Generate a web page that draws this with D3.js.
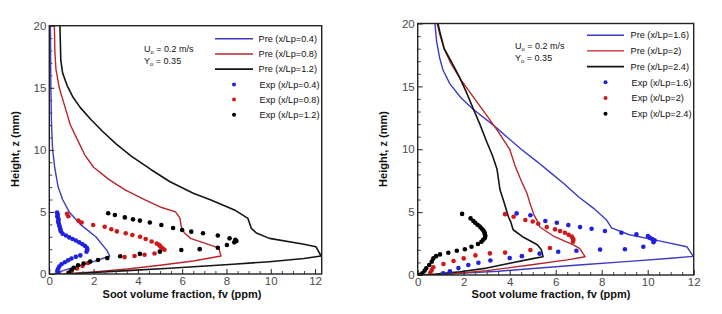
<!DOCTYPE html>
<html>
<head>
<meta charset="utf-8">
<script src="https://cdn.jsdelivr.net/npm/d3@7"></script>
<style>
  body { margin: 0; background: #fff; }
  svg { display: block; font-family: "Liberation Sans", Arial, sans-serif; }
</style>
</head>
<body>
<svg id="chart" width="722" height="314"></svg>
<script>
// ---- data: [fv (ppm), z (mm)] ----
const xTicks = [0, 2, 4, 6, 8, 10, 12];
const yTicks = [0, 5, 10, 15, 20];
const leftCases = ['0.4', '0.8', '1.2'];
const rightCases = ['1.6', '2', '2.4'];

// left panel, predictions
const preL1 = [[0.2,0],[0.48,0.19],[1.2,0.6],[2.0,1.0],[2.73,1.45],[2.6,1.9],[2.1,3.0],[1.4,4.0],[0.9,5.0],[0.6,6.0],[0.4,7.0],[0.25,8.5],[0.15,10],[0.1,12],[0.07,15],[0.05,20]];
const preL2 = [[0.6,0],[1.0,0.04],[2.0,0.17],[3.5,0.4],[5.0,0.7],[6.5,1.05],[7.75,1.45],[7.65,2.1],[6.4,2.85],[6.1,3.3],[5.96,3.8],[5.9,4.5],[5.7,5.0],[5.0,5.4],[4.3,6.0],[3.4,6.8],[2.7,7.6],[2.0,8.6],[1.6,9.6],[1.3,10.7],[0.95,12],[0.7,13.5],[0.45,15],[0.3,16.5],[0.25,18],[0.23,20]];
const preL3 = [[0.8,0],[2.0,0.12],[3.5,0.27],[5.44,0.46],[8.3,0.78],[9.94,0.99],[11.5,1.25],[12.27,1.45],[12.04,2.2],[11.5,2.4],[9.94,2.87],[9.35,3.3],[9.12,3.68],[8.97,4.48],[8.36,5.16],[7.3,5.96],[6.5,6.5],[5.45,7.43],[4.6,8.4],[3.7,9.5],[3.0,10.5],[2.4,11.5],[1.9,12.4],[1.4,13.4],[1.05,14.3],[0.8,15.2],[0.6,16.2],[0.52,17.2],[0.48,20]];

// left panel, measurements
const expL1 = [[0.35,4.95],[0.38,4.8],[0.36,4.65],[0.4,4.5],[0.42,4.35],[0.4,4.2],[0.43,4.05],[0.45,3.9],[0.48,3.75],[0.5,3.6],[0.52,3.45],[0.6,3.25],[0.75,3.1],[0.9,2.95],[1.05,2.82],[1.2,2.7],[1.35,2.55],[1.5,2.4],[1.62,2.25],[1.7,2.1],[1.72,1.95],[1.68,1.8],[1.4,1.5],[1.2,1.38],[1.0,1.25],[0.85,1.1],[0.7,0.95],[0.55,0.78],[0.45,0.6],[0.4,0.42],[0.36,0.25],[0.4,0.1]];
const expL2 = [[0.8,4.85],[0.86,4.65],[1.31,4.3],[1.46,4.15],[1.98,3.95],[2.5,3.8],[2.8,3.6],[3.05,3.43],[3.45,3.28],[3.75,3.14],[4.1,3.0],[4.35,2.82],[4.62,2.62],[4.85,2.45],[4.95,2.35],[5.0,2.25],[5.05,2.15],[5.12,2.05],[5.2,1.95],[4.75,1.65],[4.3,1.55],[3.85,1.45],[3.4,1.36],[1.75,0.88],[1.5,0.65],[1.25,0.45],[1.0,0.27],[0.85,0.08]];
const expL3 = [[2.66,4.89],[2.96,4.75],[3.41,4.56],[3.78,4.4],[4.09,4.3],[4.54,4.15],[5.06,3.95],[5.59,3.7],[6.0,3.55],[6.41,3.41],[6.94,3.28],[7.61,3.1],[8.14,2.87],[8.4,2.75],[8.45,2.65],[8.35,2.55],[8.02,2.34],[7.61,2.12],[6.79,2.0],[5.96,1.93],[4.99,1.8],[4.09,1.62],[3.2,1.43],[2.62,1.28],[2.2,1.13],[1.85,1.0],[1.55,0.85],[1.3,0.7],[1.1,0.5],[1.0,0.3],[0.9,0.12]];

// right panel, predictions
const preR1 = [[0.5,0],[2.0,0.15],[3.5,0.3],[4.88,0.5],[7.0,0.8],[9.2,1.08],[11.0,1.33],[11.98,1.48],[11.7,2.25],[10.4,2.75],[9.2,3.2],[8.43,3.75],[8.2,4.4],[7.65,5.3],[7.0,6.2],[6.4,7.2],[5.8,8.1],[5.2,9.0],[4.5,10.0],[3.3,11.9],[2.4,13.2],[1.88,14.1],[1.4,15.2],[1.1,16.3],[0.95,17.3],[0.82,18.6],[0.75,20]];
const preR2 = [[0.5,0],[1.5,0.1],[3.0,0.35],[4.88,0.79],[6.5,1.2],[7.28,1.45],[7.05,2.1],[6.77,2.4],[5.9,3.1],[5.32,3.8],[5.2,4.3],[5.05,4.8],[4.9,5.6],[4.75,6.5],[4.5,7.5],[4.25,8.6],[4.0,10.0],[3.5,11.4],[3.0,12.7],[2.4,14.2],[1.85,15.6],[1.45,16.8],[1.15,18.0],[0.95,19.2],[0.85,20]];
const preR3 = [[0.1,0],[0.8,0.08],[1.84,0.26],[3.0,0.55],[4.0,0.93],[5.0,1.3],[5.45,1.45],[5.38,2.0],[5.2,2.4],[4.6,3.0],[4.15,3.6],[4.05,4.2],[3.94,4.65],[3.75,5.8],[3.58,6.75],[3.45,8.4],[3.25,9.5],[3.0,10.6],[2.7,12.0],[2.42,13.2],[2.1,14.6],[1.8,15.8],[1.45,17.0],[1.15,18.0],[0.98,19.2],[0.88,20]];

// right panel, measurements
const expR1 = [[4.3,4.9],[4.9,4.75],[5.55,4.3],[6.05,4.15],[6.55,3.97],[7.06,3.81],[7.56,3.68],[8.14,3.5],[8.86,3.36],[9.51,3.23],[10.01,3.1],[10.1,2.95],[10.2,2.85],[10.3,2.75],[10.25,2.6],[9.81,2.25],[9.01,2.05],[7.93,2.02],[6.9,1.93],[6.11,1.85],[5.3,1.7],[4.53,1.5],[4.0,1.35],[3.16,1.15],[2.64,0.98],[2.2,0.8],[1.77,0.55],[1.4,0.3],[1.11,0.13]];
const expR2 = [[3.8,4.84],[4.17,4.63],[4.68,4.37],[5.0,4.25],[5.24,4.08],[5.61,3.81],[5.97,3.63],[6.19,3.49],[6.4,3.36],[6.56,3.2],[6.7,3.05],[6.75,2.9],[6.77,2.78],[6.75,2.65],[5.75,2.15],[4.9,1.98],[3.8,1.78],[3.14,1.72],[2.51,1.56],[2.0,1.32],[1.56,1.11],[1.12,0.87],[0.68,0.61],[0.61,0.4],[0.55,0.2]];
const expR3 = [[1.93,4.86],[2.3,4.5],[2.42,4.3],[2.5,4.15],[2.6,4.0],[2.7,3.85],[2.78,3.7],[2.85,3.55],[2.9,3.4],[2.92,3.25],[2.94,3.1],[2.92,2.95],[2.85,2.8],[2.77,2.65],[2.62,2.46],[2.34,2.25],[2.05,2.05],[1.7,1.93],[1.33,1.77],[0.97,1.64],[0.8,1.5],[0.68,1.32],[0.61,1.06],[0.5,0.8],[0.37,0.53],[0.3,0.34],[0.2,0.13],[0.1,0.02]];

const lineColors = ['#3b3bc4', '#b8262a', '#151515'];
const dotColors = ['#2020e0', '#d01818', '#000000'];

const svg = d3.select('#chart');

function drawPanel(p) {
  const x = d3.scaleLinear().domain([0, p.xMax]).range([p.left, p.right]);
  const y = d3.scaleLinear().domain([0, 20]).range([p.bottom, p.top]);
  const g = svg.append('g');

  const clipId = 'clip-' + p.id;
  g.append('clipPath').attr('id', clipId)
    .append('rect')
    .attr('x', p.left).attr('y', p.top)
    .attr('width', p.right - p.left).attr('height', p.bottom - p.top);

  const plot = g.append('g').attr('clip-path', `url(#${clipId})`);
  const line = d3.line().x(d => x(d[0])).y(d => y(d[1]));

  p.pre.forEach((s, i) => {
    plot.append('path')
      .datum(s)
      .attr('d', line)
      .attr('fill', 'none')
      .attr('stroke', lineColors[i])
      .attr('stroke-width', i === 2 ? 1.6 : 1.4)
      .attr('stroke-linejoin', 'round');
  });

  p.exp.forEach((s, i) => {
    plot.selectAll(null)
      .data(s)
      .enter().append('circle')
      .attr('cx', d => x(d[0]))
      .attr('cy', d => y(d[1]))
      .attr('r', 2.3)
      .attr('fill', dotColors[i]);
  });

  // axes: ticks point into the frame
  const xMinor = d3.range(0, p.xMax + 0.001, 0.5).filter(v => v % 2 !== 0);
  const yMinor = d3.range(0, 20.001, 1).filter(v => v % 5 !== 0);

  const xAxis = g.append('g').attr('transform', `translate(0,${p.bottom})`)
    .call(d3.axisBottom(x).tickValues(xTicks).tickSizeInner(-5).tickSizeOuter(0).tickPadding(4));
  xAxis.select('.domain').remove();
  xAxis.selectAll('text').attr('fill', '#4a4a4a').style('font-size', '11.5px').attr('dy', '0.62em');
  xAxis.selectAll('line').attr('stroke', '#222').attr('stroke-width', 1);

  g.append('g').attr('transform', `translate(0,${p.bottom})`)
    .call(d3.axisBottom(x).tickValues(xMinor).tickSizeInner(-3).tickSizeOuter(0).tickFormat(''))
    .call(a => a.select('.domain').remove())
    .selectAll('line').attr('stroke', '#444');

  const yAxis = g.append('g').attr('transform', `translate(${p.left},0)`)
    .call(d3.axisLeft(y).tickValues(yTicks).tickSizeInner(-5).tickSizeOuter(0).tickPadding(3));
  yAxis.select('.domain').remove();
  yAxis.selectAll('text').attr('fill', '#4a4a4a').style('font-size', '11.5px');
  yAxis.selectAll('line').attr('stroke', '#222').attr('stroke-width', 1);

  g.append('g').attr('transform', `translate(${p.left},0)`)
    .call(d3.axisLeft(y).tickValues(yMinor).tickSizeInner(-3).tickSizeOuter(0).tickFormat(''))
    .call(a => a.select('.domain').remove())
    .selectAll('line').attr('stroke', '#444');

  // frame
  g.append('rect')
    .attr('x', p.left).attr('y', p.top)
    .attr('width', p.right - p.left).attr('height', p.bottom - p.top)
    .attr('fill', 'none').attr('stroke', '#222').attr('stroke-width', 1.4);

  // axis titles
  g.append('text')
    .attr('x', p.xTitleX).attr('y', 298)
    .attr('text-anchor', 'middle')
    .style('font-size', '11px').style('font-weight', 'bold').attr('fill', '#111')
    .text('Soot volume fraction, fv (ppm)');

  g.append('text')
    .attr('transform', `translate(${p.yTitleX},149) rotate(-90)`)
    .attr('text-anchor', 'middle')
    .style('font-size', '11px').style('font-weight', 'bold').attr('fill', '#111')
    .text('Height, z (mm)');

  // conditions
  const note = g.append('g').style('font-size', '9px').attr('fill', '#111');
  const u = note.append('text').attr('x', p.noteX).attr('y', p.noteY);
  u.append('tspan').text('U');
  u.append('tspan').attr('dy', 2).style('font-size', '6px').text('o');
  u.append('tspan').attr('dy', -2).text(' = 0.2 m/s');
  const yo = note.append('text').attr('x', p.noteX).attr('y', p.noteY + 12.5);
  yo.append('tspan').text('Y');
  yo.append('tspan').attr('dy', 2).style('font-size', '6px').text('o');
  yo.append('tspan').attr('dy', -2).text(' = 0.35');

  // legend
  const leg = g.append('g').style('font-size', '9.2px').attr('fill', '#111');
  p.cases.forEach((c, i) => {
    const ly = p.legY + i * p.legStep;
    leg.append('line')
      .attr('x1', p.legX1).attr('x2', p.legX2).attr('y1', ly).attr('y2', ly)
      .attr('stroke', lineColors[i]).attr('stroke-width', i === 2 ? 1.7 : 1.4);
    leg.append('text').attr('x', p.legText).attr('y', ly).attr('dy', '0.35em')
      .text(`Pre (x/Lp=${c})`);
  });
  p.cases.forEach((c, i) => {
    const ly = p.legY + (i + 3) * p.legStep;
    leg.append('circle')
      .attr('cx', (p.legX1 + p.legX2) / 2).attr('cy', ly).attr('r', 2)
      .attr('fill', dotColors[i]);
    leg.append('text').attr('x', p.legText + 1).attr('y', ly).attr('dy', '0.35em')
      .text(`Exp (x/Lp=${c})`);
  });
}

drawPanel({
  id: 'left', xMax: 12.3, left: 49.3, right: 321.7, top: 25.7, bottom: 274,
  pre: [preL1, preL2, preL3], exp: [expL1, expL2, expL3], cases: leftCases,
  xTitleX: 182, yTitleX: 18.5, noteX: 144, noteY: 51.5,
  legX1: 215, legX2: 253, legText: 258.5, legY: 38.8, legStep: 15.2
});

drawPanel({
  id: 'right', xMax: 12, left: 417.7, right: 693.7, top: 23.5, bottom: 275,
  pre: [preR1, preR2, preR3], exp: [expR1, expR2, expR3], cases: rightCases,
  xTitleX: 551, yTitleX: 387, noteX: 515, noteY: 48.5,
  legX1: 587, legX2: 624, legText: 630.5, legY: 35.2, legStep: 15.7
});
</script>
</body>
</html>
